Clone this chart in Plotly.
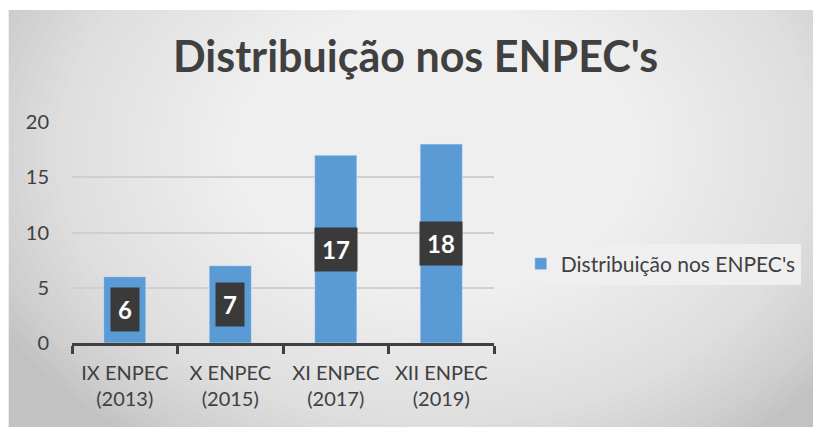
import plotly.graph_objects as go

categories = ["IX ENPEC<br>(2013)", "X ENPEC<br>(2015)", "XI ENPEC<br>(2017)", "XII ENPEC<br>(2019)"]
values = [6, 7, 17, 18]
series_name = "Distribuição nos ENPEC's"
title_text = "Distribuição nos ENPEC's"

W, H = 813, 427
L, R, T, B = 72, 497, 122, 343  # plot area in pixels


def px(x):
    return (x - L) / (R - L)


def py(y):
    return (B - y) / (B - T)


FONT = "Lato"
DARK = "#404040"

fig = go.Figure()
fig.add_trace(go.Bar(
    x=categories, y=values, name=series_name,
    marker=dict(color="#5b9bd5"), width=0.4,
    showlegend=True,
))

shapes = []
shapes.append(dict(type="rect", xref="paper", yref="paper", x0=px(8), x1=px(830), y0=py(440), y1=py(10),
                   fillcolor="#c2c2c2", line=dict(width=0), layer="below"))
cx, cy = 440, 150
n = 48
for i in range(n):
    f = 1 - i / n
    rx, ry = 500 * f, 360 * f
    shapes.append(dict(type="circle", xref="paper", yref="paper",
                       x0=px(cx - rx), x1=px(cx + rx), y0=py(cy + ry), y1=py(cy - ry),
                       fillcolor="white", opacity=0.057, line=dict(width=0), layer="below"))
# page margin strips (white) on top/left
shapes.append(dict(type="rect", xref="paper", yref="paper", x0=px(-5), x1=px(8), y0=py(440), y1=py(-5),
                   fillcolor="white", line=dict(width=0), layer="below"))
shapes.append(dict(type="rect", xref="paper", yref="paper", x0=px(-5), x1=px(830), y0=py(10), y1=py(-5),
                   fillcolor="white", line=dict(width=0), layer="below"))

annotations = []
for c, v in zip(categories, values):
    annotations.append(dict(x=c, y=v / 2, text="<b>%d</b>" % v, showarrow=False,
                            font=dict(family=FONT, size=24, color="white"),
                            bgcolor="#3a3a3a", borderpad=7, xanchor="center", yanchor="middle"))

fig.update_layout(
    width=W, height=H,
    margin=dict(l=L, r=W - R, t=T, b=H - B, pad=0),
    paper_bgcolor="white", plot_bgcolor="rgba(0,0,0,0)",
    title=dict(text="<b>%s</b>" % title_text, x=px(418), xanchor="center", xref="paper",
               y=1 - 57 / H, yanchor="middle",
               font=dict(family=FONT, size=43, color=DARK)),
    font=dict(family=FONT, size=20, color=DARK),
    xaxis=dict(tickson="boundaries", ticks="outside", ticklen=8, tickwidth=3, tickcolor=DARK,
               showline=True, linecolor=DARK, linewidth=3, showgrid=False,
               ticklabelstandoff=10,
               tickfont=dict(family=FONT, size=20, color=DARK)),
    yaxis=dict(range=[0, 20], tickvals=[0, 5, 10, 15, 20], showgrid=True, gridcolor="#cfcfcf",
               gridwidth=1.5, zeroline=False, showline=False, ticks="", ticklabelstandoff=22,
               tickfont=dict(family=FONT, size=20, color=DARK)),
    legend=dict(x=px(524), xanchor="left", y=py(264), yanchor="middle", bgcolor="#efefef",
                font=dict(family=FONT, size=21, color=DARK), itemwidth=30),
    shapes=shapes, annotations=annotations, bargap=0.6,
)

fig.write_html("out.html", default_width="%dpx" % W, default_height="%dpx" % H,
               config={"displayModeBar": False},
               post_script="document.documentElement.style.overflow='hidden';"
                           "document.body.style.overflow='hidden';document.body.style.margin='0';")
